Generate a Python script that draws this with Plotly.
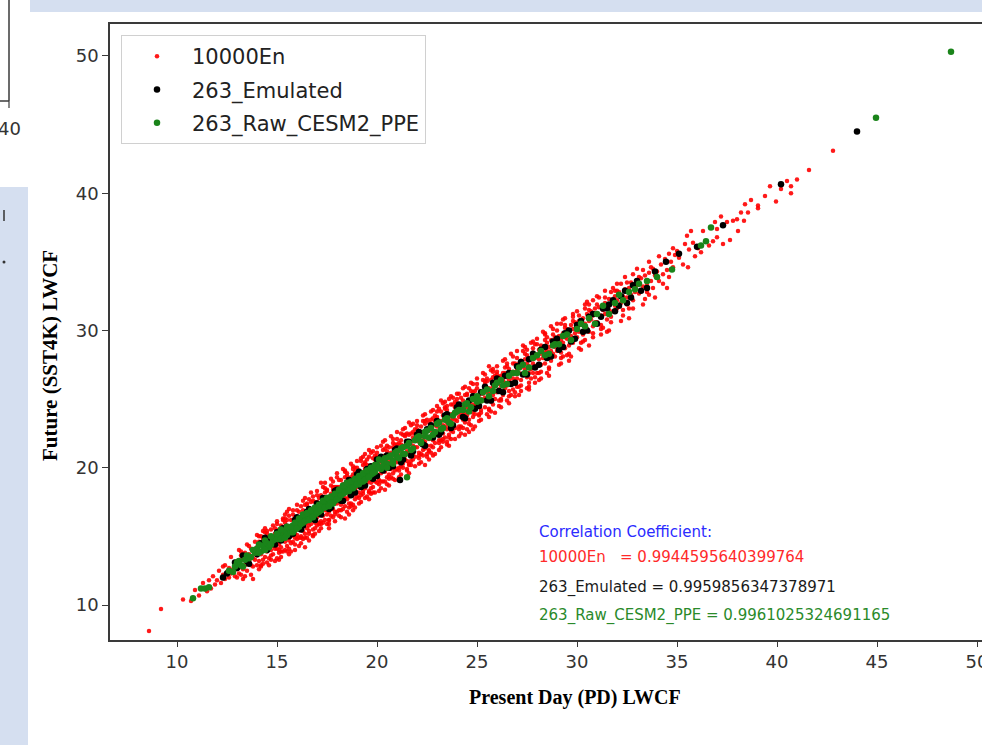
import plotly.graph_objects as go

# ---------------- data ----------------
series_names = ["10000En", "263_Emulated", "263_Raw_CESM2_PPE"]
corr_values = ["0.9944595640399764", "0.9959856347378971", "0.9961025324691165"]
x_ticks = [10, 15, 20, 25, 30, 35, 40, 45, 50]
y_ticks = [10, 20, 30, 40, 50]

en10000_points = [
    (8.6,8.1),(9.2,9.7),(10.3,10.4),(10.7,10.3),(10.9,11.1),(11.1,10.7),(11.3,11.6),(11.5,11.0),(11.6,11.8),(11.7,11.2),(11.8,12.1),(11.9,11.5),
    (12.0,11.8),(12.1,12.5),(12.2,11.6),(12.3,12.2),(12.4,12.9),(12.4,11.9),(12.5,12.4),(12.6,12.0),(12.6,12.7),(12.7,13.5),(12.7,12.3),(12.8,12.6),(12.9,12.1),(12.9,13.0),(12.3,12.8),
    (13.0,12.6),(13.0,13.1),(13.1,12.9),(13.1,12.3),(13.2,13.9),(13.2,12.8),(13.3,13.3),(13.3,12.6),(13.4,13.5),(13.4,12.9),(13.5,13.1),(13.5,12.5),(13.6,13.7),(13.6,13.2),(13.7,12.9),(13.7,14.1),(13.8,13.4),(13.8,12.8),(13.9,13.8),(13.9,13.3),(13.2,12.2),(13.6,14.3),(13.8,14.0),(13.4,13.8),(13.0,12.0),
    (14.0,13.6),(14.0,14.2),(14.1,13.9),(14.1,13.2),(14.2,14.4),(14.2,13.7),(14.3,14.0),(14.3,14.8),(14.4,13.5),(14.4,14.3),(14.5,13.9),(14.5,14.6),(14.5,15.2),(14.6,14.1),(14.6,13.4),(14.7,14.5),(14.7,14.0),(14.8,15.0),(14.8,14.3),(14.8,13.7),(14.9,14.7),(14.9,14.1),(14.0,12.9),(14.2,15.0),(14.4,15.3),(14.6,14.9),(14.3,13.3),(14.9,15.6),(14.7,13.6),(14.1,14.6),(14.5,14.2),(14.8,14.6),
    (15.0,14.6),(15.0,15.1),(15.0,14.1),(15.1,14.9),(15.1,15.5),(15.1,14.4),(15.2,15.0),(15.2,14.2),(15.2,15.8),(15.3,14.8),(15.3,15.3),(15.3,13.9),(15.4,15.1),(15.4,14.6),(15.4,16.0),(15.5,15.4),(15.5,14.9),(15.5,14.3),(15.6,15.6),(15.6,15.0),(15.6,14.7),(15.7,15.3),(15.7,14.5),(15.7,16.2),(15.8,15.8),(15.8,15.1),(15.8,14.6),(15.9,15.5),(15.9,14.9),(15.9,16.4),(15.1,13.8),(15.3,16.3),(15.5,13.9),(15.7,15.0),(15.9,15.2),(15.4,14.0),(15.6,16.5),(15.2,14.7),
    (16.0,15.7),(16.0,16.2),(16.0,15.1),(16.1,16.0),(16.1,15.5),(16.1,16.8),(16.2,16.3),(16.2,15.6),(16.2,14.9),(16.3,16.1),(16.3,15.8),(16.3,16.9),(16.4,16.5),(16.4,15.9),(16.4,15.2),(16.5,16.3),(16.5,16.0),(16.5,17.3),(16.6,16.6),(16.6,15.8),(16.6,15.4),(16.7,16.4),(16.7,17.0),(16.7,15.9),(16.8,16.8),(16.8,16.2),(16.8,15.5),(16.9,16.6),(16.9,17.5),(16.9,16.0),(16.0,14.8),(16.2,17.2),(16.4,14.9),(16.6,17.7),(16.8,15.1),(16.1,16.4),(16.3,15.4),(16.5,15.6),(16.7,16.7),(16.9,16.3),
    (17.0,16.9),(17.0,16.4),(17.0,17.5),(17.1,17.1),(17.1,16.6),(17.1,15.9),(17.2,17.3),(17.2,16.8),(17.2,18.0),(17.3,17.0),(17.3,16.5),(17.3,17.7),(17.4,17.4),(17.4,16.9),(17.4,16.2),(17.5,17.6),(17.5,17.2),(17.5,18.3),(17.6,17.5),(17.6,16.8),(17.6,17.1),(17.7,17.8),(17.7,17.3),(17.7,16.5),(17.8,17.7),(17.8,18.4),(17.8,17.0),(17.9,17.9),(17.9,17.4),(17.9,16.8),(17.0,15.8),(17.2,16.1),(17.4,18.5),(17.6,15.9),(17.8,16.4),(17.1,17.8),(17.3,17.3),(17.5,16.6),(17.7,18.1),(17.9,18.6),(17.5,16.9),(17.8,17.4),
    (18.0,18.0),(18.0,17.4),(18.0,18.6),(18.1,18.2),(18.1,17.7),(18.1,16.9),(18.2,18.4),(18.2,17.9),(18.2,19.1),(18.3,18.1),(18.3,17.5),(18.3,18.8),(18.4,18.5),(18.4,17.8),(18.4,17.2),(18.5,18.7),(18.5,18.2),(18.5,19.4),(18.6,18.4),(18.6,17.9),(18.6,18.9),(18.7,18.8),(18.7,18.2),(18.7,17.4),(18.8,18.6),(18.8,19.5),(18.8,18.0),(18.9,19.0),(18.9,18.4),(18.9,17.7),(18.0,19.3),(18.2,16.9),(18.4,19.7),(18.6,17.1),(18.8,17.3),(18.1,18.6),(18.3,18.4),(18.5,17.7),(18.7,19.3),(18.9,20.0),(18.5,18.9),(18.2,17.6),
    (19.0,19.3),(19.0,18.6),(19.1,19.0),(19.1,19.8),(19.1,18.2),(19.2,19.5),(19.2,18.8),(19.2,19.1),(19.3,20.2),(19.3,18.9),(19.3,19.6),(19.4,19.2),(19.4,18.5),(19.4,19.9),(19.5,19.4),(19.5,18.9),(19.5,20.6),(19.6,19.7),(19.6,19.1),(19.6,18.3),(19.7,19.5),(19.7,20.1),(19.7,18.9),(19.8,19.8),(19.8,19.3),(19.8,18.6),(19.9,20.3),(19.9,19.6),(19.9,19.0),(19.0,17.9),(19.2,20.5),(19.4,17.8),(19.6,20.8),(19.8,18.2),(19.3,18.3),(19.5,19.9),(19.7,18.5),(19.9,20.9),(19.1,19.4),(19.4,20.4),(19.6,19.4),(19.8,20.0),
    (20.0,20.2),(20.0,19.5),(20.0,20.8),(20.1,19.9),(20.1,20.4),(20.1,19.1),(20.2,20.1),(20.2,20.7),(20.2,19.6),(20.3,20.5),(20.3,19.8),(20.3,21.3),(20.4,20.3),(20.4,19.7),(20.4,20.9),(20.5,20.6),(20.5,20.0),(20.5,19.3),(20.6,20.8),(20.6,20.3),(20.6,21.5),(20.7,20.5),(20.7,19.9),(20.7,21.1),(20.8,20.9),(20.8,20.3),(20.8,19.6),(20.9,21.0),(20.9,20.5),(20.9,21.7),(20.0,18.9),(20.2,21.6),(20.4,19.0),(20.6,19.5),(20.8,21.8),(20.1,20.6),(20.3,20.2),(20.5,21.2),(20.7,20.2),(20.9,19.8),(20.6,19.9),(20.4,20.6),
    (21.0,21.1),(21.0,20.4),(21.0,21.7),(21.1,20.9),(21.1,21.4),(21.1,20.0),(21.2,21.3),(21.2,20.7),(21.2,22.0),(21.3,21.0),(21.3,21.6),(21.3,20.3),(21.4,21.5),(21.4,20.9),(21.4,22.3),(21.5,21.2),(21.5,21.8),(21.5,20.5),(21.6,21.7),(21.6,21.1),(21.6,20.2),(21.7,21.9),(21.7,21.3),(21.7,22.5),(21.8,21.6),(21.8,21.0),(21.8,20.6),(21.9,22.1),(21.9,21.5),(21.9,20.8),(21.0,19.9),(21.3,22.4),(21.5,19.9),(21.7,20.5),(21.9,22.8),(21.2,21.7),(21.4,20.6),(21.6,22.4),(21.8,22.2),(21.1,21.8),
    (22.0,22.1),(22.0,21.5),(22.0,22.8),(22.1,21.9),(22.1,22.4),(22.1,21.1),(22.2,22.3),(22.2,21.7),(22.2,23.0),(22.3,22.0),(22.3,22.6),(22.3,21.3),(22.4,22.5),(22.4,21.9),(22.4,23.2),(22.5,22.2),(22.5,22.8),(22.5,21.6),(22.6,22.7),(22.6,22.1),(22.6,21.2),(22.7,22.9),(22.7,22.3),(22.7,23.5),(22.8,22.6),(22.8,22.0),(22.8,21.5),(22.9,23.1),(22.9,22.5),(22.9,21.8),(22.1,20.9),(22.3,23.4),(22.5,21.0),(22.7,21.6),(22.9,23.8),(22.2,22.6),(22.6,23.3),(22.4,21.4),
    (23.0,23.0),(23.0,22.4),(23.0,23.7),(23.1,23.2),(23.1,22.7),(23.1,22.0),(23.2,23.4),(23.2,22.9),(23.2,24.1),(23.3,23.1),(23.3,22.5),(23.3,23.8),(23.4,23.6),(23.4,23.0),(23.4,22.2),(23.5,23.3),(23.5,24.2),(23.5,22.8),(23.6,23.7),(23.6,23.1),(23.6,22.4),(23.7,23.9),(23.7,23.4),(23.7,24.6),(23.8,23.6),(23.8,23.0),(23.8,22.6),(23.9,24.1),(23.9,23.5),(23.9,22.9),(23.1,24.3),(23.3,21.9),(23.5,21.7),(23.7,22.7),(23.9,24.8),(23.4,24.4),
    (24.0,24.0),(24.0,23.4),(24.0,24.7),(24.1,24.2),(24.1,23.7),(24.1,23.0),(24.2,24.4),(24.2,23.9),(24.2,25.1),(24.3,24.1),(24.3,23.5),(24.3,24.9),(24.4,24.6),(24.4,24.0),(24.4,23.3),(24.5,24.4),(24.5,25.3),(24.5,23.8),(24.6,24.7),(24.6,24.1),(24.6,23.5),(24.7,24.9),(24.7,24.3),(24.7,25.6),(24.8,24.6),(24.8,24.0),(24.8,23.7),(24.9,25.1),(24.9,24.5),(24.9,23.9),(24.1,25.4),(24.3,22.9),(24.6,25.8),(24.8,22.8),
    (25.0,25.1),(25.0,24.5),(25.0,25.8),(25.1,25.3),(25.1,24.7),(25.2,25.0),(25.2,25.6),(25.2,24.2),(25.3,25.4),(25.3,24.9),(25.4,25.7),(25.4,25.1),(25.4,24.4),(25.5,25.5),(25.5,24.9),(25.5,26.3),(25.6,25.8),(25.6,25.2),(25.7,25.5),(25.7,24.8),(25.7,26.4),(25.8,25.9),(25.8,25.3),(25.8,24.6),(25.9,26.1),(25.9,25.6),(25.9,25.0),(25.1,23.9),(25.3,26.4),(25.6,24.3),(25.8,27.0),(25.4,26.1),
    (26.0,26.1),(26.0,25.5),(26.0,26.8),(26.1,26.3),(26.1,25.7),(26.2,26.0),(26.2,26.7),(26.3,26.4),(26.3,25.3),(26.4,26.2),(26.4,26.9),(26.4,25.8),(26.5,26.6),(26.5,26.0),(26.6,27.2),(26.6,26.4),(26.6,25.6),(26.7,26.8),(26.7,26.2),(26.8,27.0),(26.8,26.5),(26.8,25.7),(26.9,26.9),(26.9,26.3),(26.9,27.6),(26.2,24.9),(26.5,27.6),(26.7,25.3),(26.3,26.9),(26.1,26.6),
    (27.0,27.1),(27.0,26.5),(27.1,27.6),(27.1,26.9),(27.2,27.3),(27.2,26.4),(27.3,27.5),(27.3,26.8),(27.4,27.9),(27.4,27.2),(27.5,27.6),(27.5,26.6),(27.5,28.2),(27.6,27.4),(27.6,26.9),(27.7,27.9),(27.7,27.2),(27.8,28.4),(27.8,27.6),(27.8,26.9),(27.9,28.0),(27.9,27.4),(27.0,25.9),(27.3,28.5),(27.6,25.9),(27.9,29.0),(27.2,27.8),(27.7,26.5),
    (28.0,28.1),(28.0,27.4),(28.1,28.6),(28.1,27.9),(28.2,28.3),(28.2,27.5),(28.3,28.8),(28.3,28.0),(28.4,28.4),(28.4,27.6),(28.5,29.1),(28.5,28.5),(28.6,28.0),(28.6,28.8),(28.7,29.3),(28.7,28.5),(28.7,27.8),(28.8,29.0),(28.8,28.3),(28.9,29.5),(28.9,28.8),(28.0,26.9),(28.4,29.7),(28.6,27.2),(28.9,28.1),(28.2,28.9),
    (29.0,29.2),(29.0,28.5),(29.1,29.6),(29.1,28.9),(29.2,29.3),(29.2,28.4),(29.3,29.8),(29.3,29.1),(29.4,29.5),(29.4,28.7),(29.5,30.1),(29.5,29.4),(29.6,28.9),(29.6,29.9),(29.7,30.4),(29.7,29.6),(29.8,29.1),(29.8,30.1),(29.9,30.6),(29.9,29.8),(29.2,30.5),(29.5,28.2),(29.8,31.0),(29.4,30.2),
    (30.0,30.2),(30.0,29.5),(30.1,30.7),(30.1,29.9),(30.2,30.4),(30.3,30.9),(30.3,29.7),(30.4,30.5),(30.5,31.2),(30.5,30.1),(30.6,30.7),(30.6,29.9),(30.7,31.4),(30.7,30.8),(30.8,30.3),(30.8,31.1),(30.9,31.6),(30.9,30.6),(30.2,29.1),(30.4,31.6),(30.6,31.9),(30.8,29.8),
    (31.0,31.2),(31.0,30.6),(31.1,31.7),(31.2,31.1),(31.2,30.4),(31.3,31.5),(31.4,32.0),(31.4,31.2),(31.5,30.8),(31.5,31.7),(31.6,32.3),(31.6,31.5),(31.7,31.0),(31.8,32.0),(31.8,31.4),(31.9,32.5),(31.9,31.8),(31.1,32.4),(31.3,30.2),(31.7,32.8),
    (32.0,32.2),(32.0,31.6),(32.1,32.8),(32.2,32.0),(32.3,32.5),(32.3,31.5),(32.4,33.0),(32.5,32.4),(32.5,31.9),(32.6,33.1),(32.7,32.6),(32.7,33.5),(32.8,32.2),(32.9,33.2),(32.9,32.8),(32.2,33.4),(32.6,31.6),
    (33.0,33.3),(33.1,32.7),(33.2,33.8),(33.3,33.2),(33.4,34.0),(33.5,33.4),(33.5,32.8),(33.6,34.2),(33.7,33.6),(33.8,34.5),(33.8,33.1),(33.9,34.0),(33.3,34.4),(33.6,32.6),
    (34.0,34.3),(34.1,33.6),(34.2,34.8),(34.3,34.1),(34.4,35.2),(34.5,34.4),(34.6,33.9),(34.7,35.0),(34.8,34.6),(34.9,35.5),(34.3,33.4),(34.6,35.6),
    (35.4,36.3),(35.5,36.9),(35.55,34.6),(35.7,37.25),(35.9,35.4),(35.1,35.3),(35.3,34.8),(35.6,35.9),(35.8,36.4),(35.0,35.8),
    (36.05,36.0),(36.3,37.25),(37.0,36.8),(37.0,37.4),(37.3,36.3),(37.65,36.6),(37.8,38.0),(38.0,38.1),(38.05,37.25),(38.35,38.0),(38.4,39.2),(38.55,38.6),(38.7,39.5),(36.6,36.2),(36.9,37.9),(37.5,37.9),(36.2,35.7),(37.2,38.3),(38.2,38.6),(36.8,36.5),
    (39.05,39.1),(39.05,38.9),(39.65,40.5),(39.95,39.4),(40.5,40.9),(40.7,40.5),(40.7,40.0),(41.0,41.0),(41.6,41.7),(42.8,43.1),(39.4,39.8),(40.2,40.3),
    # band flanks
    (14.1,15.0),(14.3,13.0),(14.5,15.4),(14.7,13.3),(14.9,15.2),(14.2,12.9),
    (15.0,15.9),(15.2,13.9),(15.4,16.3),(15.6,14.1),(15.8,16.6),(15.1,14.0),(15.5,16.2),(15.9,14.4),
    (16.0,16.9),(16.2,15.0),(16.4,17.3),(16.6,15.2),(16.8,17.6),(16.1,14.9),(16.5,17.4),(16.9,15.6),(16.3,14.8),(16.7,17.5),
    (17.0,18.0),(17.2,15.9),(17.4,18.2),(17.6,16.2),(17.8,18.6),(17.1,16.0),(17.5,18.4),(17.9,16.6),(17.3,16.0),(17.7,18.7),
    (18.1,19.1),(18.3,17.0),(18.5,19.6),(18.7,17.2),(18.9,19.7),(18.0,16.8),(18.4,19.3),(18.6,17.4),(18.8,19.9),(18.2,17.3),
    (19.0,20.0),(19.2,18.0),(19.4,20.3),(19.6,18.2),(19.8,20.7),(19.1,17.8),(19.5,20.2),(19.7,18.1),(19.3,18.1),(19.9,20.6),
    (20.0,21.1),(20.2,19.0),(20.4,21.4),(20.6,19.2),(20.8,21.5),(20.1,18.8),(20.5,21.6),(20.7,19.3),(20.3,19.0),(20.9,21.4),
    (21.0,22.1),(21.2,20.1),(21.4,22.4),(21.6,20.3),(21.8,22.6),(21.1,19.8),(21.5,22.5),(21.7,20.2),(21.3,20.0),(21.9,22.5),
    (22.0,23.1),(22.2,21.0),(22.4,23.4),(22.6,21.3),(22.8,23.6),(22.1,20.7),(22.5,23.5),(22.7,21.1),(22.3,20.9),(22.9,23.4),
    (23.0,24.1),(23.2,22.0),(23.4,24.3),(23.6,22.2),(23.8,24.6),(23.1,21.8),(23.5,24.5),(23.7,22.1),(23.3,22.1),(23.9,24.4),
    (24.0,25.0),(24.2,23.0),(24.4,25.3),(24.6,23.2),(24.8,25.5),(24.1,22.8),(24.5,25.4),(24.7,23.1),(24.9,25.6),
    (25.0,26.1),(25.2,24.0),(25.4,26.3),(25.6,24.2),(25.8,26.6),(25.1,23.8),(25.5,26.5),(25.7,24.1),(25.9,26.7),
    (26.0,27.0),(26.2,25.0),(26.4,27.3),(26.6,25.2),(26.8,27.6),(26.1,24.9),(26.5,27.4),(26.9,25.5),
    (27.0,28.0),(27.2,26.0),(27.4,28.3),(27.6,26.2),(27.8,28.7),(27.1,25.9),(27.5,28.6),(27.9,26.6),
    (28.0,29.0),(28.2,27.0),(28.4,29.3),(28.6,27.3),(28.8,29.7),(28.1,26.9),(28.5,29.5),
    (29.0,30.0),(29.2,28.0),(29.4,30.4),(29.6,28.3),(29.8,30.7),(29.3,28.1),
    (30.1,31.1),(30.3,29.2),(30.6,31.5),(30.8,29.5),(30.4,29.3),
    (31.0,31.9),(31.2,30.1),(31.4,32.4),(31.7,30.6),(31.9,32.9),
    (32.0,32.9),(32.3,31.1),(32.5,33.5),(32.8,31.6),
    (33.1,33.9),(33.4,32.3),(33.7,34.6),
    # sparser outer edge of the band
    (13.1,14.0),(13.3,11.9),(13.5,14.4),(13.7,12.2),(13.9,14.6),(13.4,12.1),(13.8,11.9),(13.2,13.6),
    (14.0,15.1),(14.2,12.8),(14.4,15.6),(14.6,12.9),(14.8,15.8),(14.1,12.6),(14.3,15.4),(14.5,13.1),(14.7,15.5),(14.9,13.2),
    (15.0,16.1),(15.2,13.5),(15.4,16.6),(15.6,13.7),(15.8,16.9),(15.1,13.3),(15.3,16.2),(15.5,16.8),(15.7,13.9),(15.9,14.0),(15.0,13.4),(15.6,17.0),
    (16.0,17.3),(16.2,14.5),(16.4,17.8),(16.6,14.7),(16.8,17.9),(16.1,14.3),(16.3,17.6),(16.5,14.9),(16.7,18.2),(16.9,15.2),(16.4,14.2),(16.8,15.0),
    (17.0,18.3),(17.2,15.6),(17.4,18.9),(17.6,15.6),(17.8,19.0),(17.1,15.4),(17.3,18.6),(17.5,15.9),(17.7,19.2),(17.9,16.1),(17.2,18.9),(17.6,16.2),
    (18.0,19.6),(18.2,16.4),(18.4,19.8),(18.6,16.6),(18.8,20.1),(18.1,16.5),(18.3,19.9),(18.5,16.8),(18.7,20.3),(18.9,17.1),(18.4,16.3),(18.8,16.9),
    (19.0,20.5),(19.2,17.5),(19.4,21.0),(19.6,17.7),(19.8,21.2),(19.1,17.4),(19.3,20.8),(19.5,17.9),(19.7,21.1),(19.9,18.2),(19.2,20.7),(19.6,21.3),
    (20.0,21.5),(20.2,18.5),(20.4,22.0),(20.6,18.7),(20.8,22.1),(20.1,18.3),(20.3,21.9),(20.5,18.8),(20.7,22.3),(20.9,19.1),(20.4,18.4),(20.8,19.2),
    (21.0,22.6),(21.2,19.5),(21.4,22.9),(21.6,19.6),(21.8,23.2),(21.1,19.3),(21.3,22.8),(21.5,19.8),(21.7,23.1),(21.9,20.1),(21.2,22.5),(21.6,23.3),
    (22.0,23.4),(22.2,20.4),(22.4,23.9),(22.6,20.6),(22.8,24.2),(22.1,20.3),(22.3,23.8),(22.5,20.8),(22.7,24.1),(22.9,21.0),(22.4,20.2),(22.8,20.9),
    (23.0,24.5),(23.2,21.5),(23.4,24.8),(23.6,21.6),(23.8,25.1),(23.1,21.3),(23.3,24.7),(23.5,21.9),(23.7,25.2),(23.9,22.1),(23.2,24.9),(23.6,25.0),
    (24.0,25.4),(24.2,22.5),(24.4,25.9),(24.6,22.6),(24.8,26.1),(24.1,22.3),(24.3,25.8),(24.5,22.8),(24.7,26.2),(24.9,23.0),(24.4,22.4),
    (25.0,26.5),(25.2,23.5),(25.4,26.8),(25.6,23.7),(25.8,27.2),(25.1,23.4),(25.3,26.9),(25.5,23.9),(25.7,27.1),(25.9,24.0),(25.6,27.4),
    (26.0,27.4),(26.2,24.4),(26.4,27.9),(26.6,24.7),(26.8,28.1),(26.1,24.5),(26.3,27.8),(26.5,24.9),(26.7,28.3),(26.9,25.2),
    (27.0,28.5),(27.2,25.6),(27.4,28.8),(27.6,25.7),(27.8,29.2),(27.1,25.3),(27.3,28.9),(27.5,25.8),(27.7,29.1),(27.9,26.2),
    (28.0,29.4),(28.2,26.5),(28.4,29.8),(28.6,26.7),(28.8,30.1),(28.1,26.4),(28.3,29.9),(28.5,26.9),(28.7,30.3),
    (29.0,30.5),(29.2,27.6),(29.4,30.9),(29.6,27.8),(29.8,31.2),(29.1,27.5),(29.3,30.8),(29.7,28.1),
    (30.0,31.4),(30.2,28.6),(30.4,31.9),(30.6,28.9),(30.8,32.2),(30.1,28.7),(30.5,32.1),
    (31.0,32.5),(31.2,29.7),(31.4,32.9),(31.6,30.0),(31.8,33.1),(31.5,29.9),
    (32.0,33.4),(32.2,30.7),(32.4,33.9),(32.6,30.9),(32.8,34.1),
    (33.0,34.5),(33.3,31.9),(33.6,35.0),(33.9,32.4),
    (34.1,35.4),(34.5,33.1),(34.8,36.0),
]

emulated_points = [
    (12.5,12.3),(12.3,12.0),(13.0,12.7),(13.3,13.6),(13.6,13.0),(13.9,14.0),(14.2,14.5),(14.5,14.0),(14.7,14.8),(15.0,15.3),
    (15.2,14.7),(15.5,15.7),(15.8,15.2),(16.0,16.4),(16.3,15.8),(16.5,16.8),(16.8,16.3),(17.0,17.4),(17.2,16.6),(17.5,17.8),
    (17.7,17.1),(18.0,18.4),(18.2,17.6),(18.5,18.9),(18.7,18.0),(19.0,19.5),(19.2,18.6),(19.5,19.9),(19.8,19.2),(20.0,20.6),
    (20.3,19.8),(20.5,20.9),(20.8,20.1),(21.0,21.4),(21.15,19.1),(21.3,20.6),(21.6,21.9),(21.8,21.2),(22.0,22.4),(22.3,21.7),
    (22.5,22.8),(22.8,22.2),(23.0,23.4),(23.2,22.6),(23.5,23.9),(23.8,23.1),(24.0,24.4),(24.3,23.7),(24.6,24.9),(24.9,24.3),
    (25.2,25.5),(25.5,24.9),(25.8,26.2),(26.1,25.6),(26.4,26.7),(26.7,26.1),(27.0,27.4),(27.3,26.8),(27.6,27.9),(27.9,27.3),
    (28.2,28.6),(28.5,28.0),(28.8,29.2),(29.1,28.6),(29.4,29.8),(29.7,29.2),(30.0,30.4),(30.3,29.9),(30.6,31.0),(31.0,30.5),
    (31.3,31.6),(31.6,31.9),(31.9,31.4),(32.2,32.5),(32.5,32.0),(32.8,33.3),(33.2,32.9),(34.45,35.0),(37.3,37.66),(40.2,40.66),
    (44.0,44.5),
    (12.9,13.1),(13.5,13.2),(14.0,13.7),(14.4,14.9),(14.9,14.4),(15.3,15.6),(15.6,15.0),(15.9,16.2),(16.2,15.5),(16.6,17.0),
    (16.9,16.2),(17.3,17.8),(17.6,17.0),(17.9,18.3),(18.3,17.6),(18.6,19.1),(18.9,18.2),(19.1,19.7),(19.4,18.7),(19.7,20.1),
    (20.0,19.4),(20.2,20.8),(20.6,20.0),(20.9,21.3),(21.2,20.4),(21.5,21.9),(21.7,20.9),(22.1,22.6),(22.4,21.6),(22.7,23.1),
    (23.1,22.4),(23.4,23.8),(23.7,22.9),(24.1,24.6),(24.4,23.6),(24.8,25.2),(25.1,24.5),(25.4,25.9),(25.7,24.9),(26.0,26.5),
    (26.3,25.5),(26.6,26.9),(26.9,26.2),(27.2,27.7),(27.5,26.8),(27.8,28.3),(28.1,27.5),(28.4,28.8),(28.7,28.1),(29.0,29.4),
    (29.3,28.8),(29.6,30.0),(29.9,29.4),(30.2,30.7),(30.5,30.0),(30.8,31.2),(31.2,31.0),(31.5,31.6),(31.8,32.2),(32.1,31.8),
    (32.4,32.9),(32.7,32.4),(33.0,33.6),(33.5,33.1),(33.9,34.3),(35.1,35.6),(36.0,36.1),
]

raw_cesm2_points = [
    (10.8,10.5),(11.2,11.2),(11.4,11.2),(11.6,11.3),(12.6,12.5),(12.9,12.8),(13.0,13.1),(13.2,12.9),(13.4,13.3),(13.5,13.6),
    (13.7,13.5),(13.9,13.8),(14.0,14.1),(14.2,13.9),(14.3,14.3),(14.5,14.5),(14.6,14.2),(14.8,14.7),(14.9,14.9),(15.0,14.8),
    (15.1,15.2),(15.3,15.0),(15.4,15.4),(15.5,15.1),(15.6,15.6),(15.7,15.3),(15.8,15.8),(15.9,15.5),(16.0,16.0),(16.1,15.7),
    (16.2,16.3),(16.3,16.0),(16.4,16.5),(16.5,16.2),(16.6,16.7),(16.7,16.4),(16.8,16.9),(16.9,16.6),(17.0,17.0),(17.1,16.8),
    (17.2,17.3),(17.3,17.1),(17.4,17.6),(17.5,17.3),(17.6,17.7),(17.7,17.5),(17.8,17.9),(17.9,17.6),(18.0,18.1),(18.1,17.8),
    (18.2,18.4),(18.3,18.1),(18.4,18.6),(18.5,18.3),(18.6,18.8),(18.7,18.5),(18.8,19.0),(18.9,18.7),(19.0,19.1),(19.1,18.8),
    (19.2,19.4),(19.3,19.0),(19.4,19.6),(19.5,19.3),(19.6,19.8),(19.7,19.5),(19.8,20.0),(19.9,19.7),(20.0,20.2),(20.2,19.9),
    (20.3,20.5),(20.5,20.3),(20.6,20.8),(20.8,20.5),(20.9,21.1),(21.0,20.8),(21.2,21.4),(21.3,21.0),(21.5,19.3),(21.5,21.6),
    (21.7,21.3),(21.9,22.0),(22.1,22.3),(22.2,21.9),(22.4,22.6),(22.6,22.2),(22.7,22.9),(22.9,22.6),(23.1,23.3),(23.3,22.9),
    (23.5,23.6),(23.7,23.2),(23.9,24.0),(24.1,24.2),(24.4,24.6),(24.6,24.1),(24.8,25.0),(25.0,24.8),(25.3,25.5),(25.6,25.2),
    (25.9,26.0),(26.2,26.4),(26.5,26.1),(26.8,26.9),(27.1,27.3),(27.4,26.9),(27.8,28.0),(28.2,28.5),(28.6,28.3),(28.9,29.0),
    (29.3,29.6),(29.7,29.3),(30.2,30.5),(30.6,30.9),(30.9,30.5),(31.3,31.8),(31.6,31.2),(32.1,32.6),(32.6,32.8),(32.9,33.0),
    (34.0,33.9),(34.75,34.45),(36.2,36.2),(36.45,36.5),(36.7,37.5),(44.95,45.5),(48.7,50.3),
    (12.8,12.4),(13.1,13.2),(13.3,12.8),(13.6,13.4),(13.8,14.0),(14.1,13.8),(14.1,14.4),(14.4,14.0),(14.4,14.7),(14.7,14.4),
    (14.7,15.0),(15.0,15.2),(15.2,14.8),(15.2,15.5),(15.4,14.9),(15.5,15.7),(15.7,15.7),(15.8,15.3),(15.9,16.0),(16.0,15.6),
    (16.1,16.3),(16.2,15.9),(16.3,16.6),(16.4,16.1),(16.5,16.7),(16.6,16.2),(16.7,16.9),(16.8,16.4),(16.9,17.1),(17.0,16.7),
    (17.1,17.3),(17.2,16.9),(17.3,17.6),(17.4,17.1),(17.5,17.8),(17.6,17.2),(17.7,17.9),(17.8,17.4),(17.9,18.1),(18.0,17.7),
    (18.1,18.4),(18.2,18.0),(18.3,18.7),(18.4,18.2),(18.5,18.9),(18.6,18.3),(18.7,19.0),(18.8,18.5),(18.9,19.2),(19.0,18.8),
    (19.1,19.4),(19.2,19.0),(19.3,19.6),(19.4,19.1),(19.5,19.8),(19.6,19.3),(19.7,20.0),(19.8,19.6),(19.9,20.2),(20.1,20.0),
    (20.1,20.6),(20.3,20.1),(20.4,20.7),(20.5,20.0),(20.7,20.9),(20.8,20.3),(21.0,21.2),(21.1,20.7),(21.3,21.5),(21.4,21.0),
    (21.6,21.8),(21.8,21.4),(22.0,22.2),(22.2,21.8),(22.4,22.3),(22.5,22.7),(22.8,22.4),(23.0,23.2),(23.2,22.8),(23.4,23.5),
    (23.6,23.3),(23.8,23.8),(24.0,24.1),(24.3,24.2),(24.5,24.7),(24.7,24.4),(25.0,25.2),(25.2,24.9),(25.5,25.7),(25.8,25.6),
    (26.0,26.2),(26.3,26.0),(26.6,26.7),(27.0,26.9),(27.3,27.5),(27.6,27.3),(28.0,28.2),(28.4,28.2),(28.8,28.9),(29.1,29.0),
    (29.5,29.7),(30.0,30.1),(30.4,30.3),(31.0,31.2),(31.9,32.0),(32.3,32.2),(33.1,33.4),(33.5,33.6),
]

en_x = [p[0] for p in en10000_points]
en_y = [p[1] for p in en10000_points]
em_x = [p[0] for p in emulated_points]
em_y = [p[1] for p in emulated_points]
raw_x = [p[0] for p in raw_cesm2_points]
raw_y = [p[1] for p in raw_cesm2_points]

# ---------------- figure ----------------
W, H = 982, 745
L, T, B = 110, 24, 640           # plot area in pixels
PW, PH = W - L, B - T

def px(xp):
    return (xp - L) / PW

def py(yp):
    return 1 - (yp - T) / PH

fig = go.Figure()
fig.add_trace(go.Scatter(x=en_x, y=en_y, mode="markers", name=series_names[0],
                         legendgroup="a",
                         marker=dict(color="rgba(255,0,0,0.9)", size=4.5, line=dict(width=0))))
fig.add_trace(go.Scatter(x=em_x, y=em_y, mode="markers", name=series_names[1],
                         legendgroup="b",
                         marker=dict(color="black", size=6.5, line=dict(width=0))))
fig.add_trace(go.Scatter(x=raw_x, y=raw_y, mode="markers", name=series_names[2],
                         legendgroup="c",
                         marker=dict(color="#1a841a", size=6.5, line=dict(width=0))))

axis_font = dict(family="DejaVu Sans", size=18, color="#333333")
fig.update_xaxes(range=[6.65, 50.25], tickvals=x_ticks, ticktext=[str(v) for v in x_ticks],
                 showgrid=False, zeroline=False, showline=True, linecolor="#3a3a3a", linewidth=1.5,
                 mirror=True, ticks="outside", ticklen=5, tickwidth=1.2, tickcolor="#3a3a3a",
                 tickfont=axis_font, ticklabeloverflow="allow", automargin=False)
fig.update_yaxes(range=[7.45, 52.33], tickvals=y_ticks, ticktext=[str(v) for v in y_ticks],
                 showgrid=False, zeroline=False, showline=True, linecolor="#3a3a3a", linewidth=1.5,
                 ticks="outside", ticklen=6, tickwidth=1.2, tickcolor="#3a3a3a",
                 tickfont=axis_font, automargin=False)

annotations = []
title_font = dict(family="Liberation Serif", size=20, color="black")
annotations.append(dict(text="<b>Present Day (PD) LWCF</b>", xref="paper", yref="paper",
                        x=px(575), y=py(697), xanchor="center", yanchor="middle",
                        showarrow=False, font=title_font))
annotations.append(dict(text="<b>Future (SST4K) LWCF</b>", xref="paper", yref="paper",
                        x=px(50), y=py(356), xanchor="center", yanchor="middle", textangle=-90,
                        showarrow=False, font=dict(family="Liberation Serif", size=21, color="black")))

corr_font = dict(family="DejaVu Sans", size=15)
corr_lines = [
    ("Correlation Coefficient:", "#2b2bff", 532),
    (series_names[0] + "\u00a0\u00a0\u00a0= " + corr_values[0], "#ff2a2a", 557),
    (series_names[1] + " = " + corr_values[1], "#1a1a1a", 587),
    (series_names[2] + " = " + corr_values[2], "#2a8a2a", 615),
]
for txt, col, yy in corr_lines:
    annotations.append(dict(text=txt, xref="paper", yref="paper", x=px(537), y=py(yy),
                            xanchor="left", yanchor="middle", showarrow=False,
                            font=dict(corr_font, color=col)))

# fragment of neighbouring slide content
annotations.append(dict(text="40", xref="paper", yref="paper", x=px(9), y=py(129),
                        xanchor="center", yanchor="middle", showarrow=False,
                        font=dict(family="DejaVu Sans", size=18, color="#333333")))

shapes = [
    dict(type="rect", xref="paper", yref="paper", x0=px(30), x1=px(W + 5), y0=py(12), y1=py(-5),
         fillcolor="#d5dff0", line=dict(width=0), layer="below"),
    dict(type="rect", xref="paper", yref="paper", x0=px(-5), x1=px(28), y0=py(W), y1=py(187),
         fillcolor="#d5dff0", line=dict(width=0), layer="below"),
    dict(type="line", xref="paper", yref="paper", x0=px(9), x1=px(9), y0=py(-2), y1=py(101),
         line=dict(color="#3a3a3a", width=1.5)),
    dict(type="line", xref="paper", yref="paper", x0=px(-2), x1=px(9), y0=py(101), y1=py(101),
         line=dict(color="#3a3a3a", width=1.5)),
    dict(type="line", xref="paper", yref="paper", x0=px(9), x1=px(9), y0=py(101), y1=py(108),
         line=dict(color="#3a3a3a", width=1.2)),
    dict(type="line", xref="paper", yref="paper", x0=px(4), x1=px(4), y0=py(210), y1=py(221),
         line=dict(color="#333333", width=1.5)),
    dict(type="circle", xref="paper", yref="paper", x0=px(2.5), x1=px(5.5), y0=py(260.5), y1=py(263.5),
         fillcolor="#333333", line=dict(width=0)),
]

fig.update_layout(
    width=W, height=H,
    margin=dict(l=L, r=0, t=T, b=H - B, pad=0, autoexpand=False),
    paper_bgcolor="white", plot_bgcolor="white",
    showlegend=True,
    legend=dict(x=px(121), y=py(35), xanchor="left", yanchor="top",
                bgcolor="rgba(255,255,255,0.85)", bordercolor="#d0d0d0", borderwidth=1,
                font=dict(family="DejaVu Sans", size=21, color="#222222"),
                itemwidth=60, tracegroupgap=3, itemsizing="trace"),
    annotations=annotations,
    shapes=shapes,
)

fig.write_html("out.html", config={"displayModeBar": False},
               post_script="document.body.style.margin='0';document.body.style.overflow='hidden';")
